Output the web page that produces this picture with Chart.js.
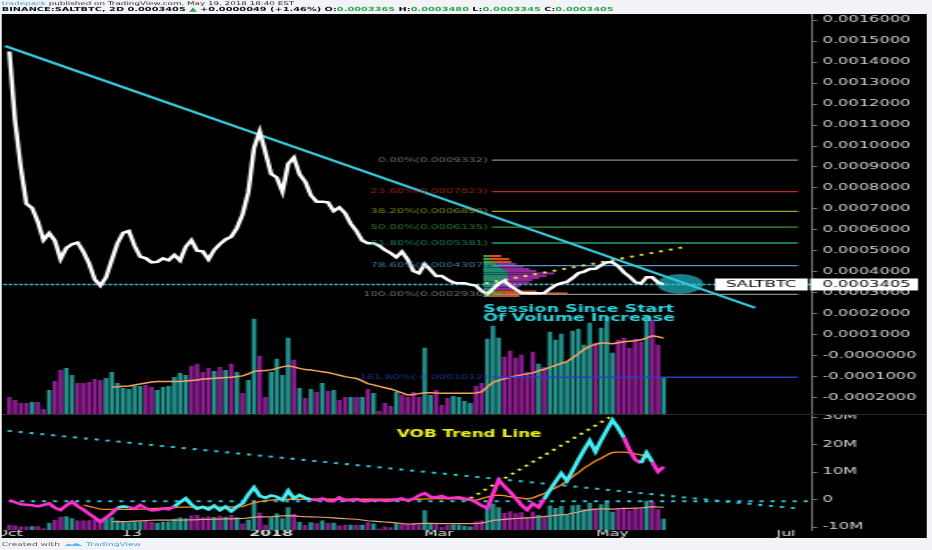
<!DOCTYPE html>
<html>
<head>
<meta charset="utf-8">
<script src="https://cdn.jsdelivr.net/npm/chart.js@4.4.0/dist/chart.umd.min.js"></script>
<style>
  html, body { margin: 0; padding: 0; background: #f1f3f6; overflow: hidden; width: 932px; height: 550px; }
  #wrap { position: absolute; left: 0; top: 0; width: 532px; height: 550px;
          transform: scaleX(1.7519); transform-origin: 0 0; font-family: 'DejaVu Sans', sans-serif; }
  #black { position: absolute; left: 1px; top: 14px; width: 528px; height: 524px; background: #000; }
  canvas { position: absolute; left: 1px; }
  #c1 { top: 14px; }
  #c2 { top: 415px; }
  #sep { position: absolute; left: 1px; top: 414px; width: 528px; height: 1px; background: #2c2c2c; }
  .h { position: absolute; left: 1px; white-space: nowrap; line-height: 1; }
  #h1 { top: 1px; font-size: 5px; color: #2b2b2b; }
  #h2 { top: 7px; font-size: 5.6px; font-weight: bold; color: #111; }
  #ft { top: 542px; font-size: 5.2px; color: #555; }
  .g { color: #2ea84f; }
  .b { color: #3d9ee0; }
</style>
</head>
<body>
<div id="wrap">
  <div class="h" id="h1"><span class="b">tradepack</span> published on TradingView.com, May 19, 2018 18:40 EST</div>
  <div class="h" id="h2">BINANCE:SALTBTC, 2D 0.0003405 <span class="g">▲</span> +0.0000049 (+1.46%) O:<span class="g">0.0003365</span> H:<span class="g">0.0003480</span> L:<span class="g">0.0003345</span> C:<span class="g">0.0003405</span></div>
  <div id="black"></div>
  <canvas id="c1" width="528" height="401"></canvas>
  <div id="sep"></div>
  <canvas id="c2" width="528" height="127"></canvas>
  <div class="h" id="ft">Created with &nbsp;<svg width="10" height="5" viewBox="0 0 10 5" style="vertical-align:middle"><path d="M0 4 Q2 0 4 3 Q6 0 8 2 Q9 3 10 4 Z" fill="#5fb6ea"/></svg> <span class="b">TradingView</span></div>
</div>
<script>
// 2D bars, bar 0 = 2017-10-01, last bar = 2018-05-19
const price = [0.00145, 0.00112, 0.00090, 0.000725, 0.000705, 0.00064, 0.000552, 0.000585, 0.000549, 0.000462,
  0.000514, 0.000532, 0.00054, 0.000497, 0.000441, 0.000365, 0.000335, 0.000375, 0.000457, 0.000537,
  0.000586, 0.000595, 0.000525, 0.000473, 0.000465, 0.000446, 0.000448, 0.000465, 0.000456, 0.000481,
  0.000454, 0.00052, 0.000552, 0.000501, 0.000498, 0.00046, 0.000505, 0.000533, 0.000555, 0.000568,
  0.00061, 0.000675, 0.00078, 0.00099, 0.00107, 0.00097, 0.000867, 0.00085, 0.000782, 0.000915,
  0.000945, 0.000865, 0.00083, 0.000765, 0.000735, 0.000735, 0.000732, 0.00069, 0.000708, 0.00068,
  0.00063, 0.000595, 0.00055, 0.000537, 0.000537, 0.000525, 0.000505, 0.00049, 0.00047, 0.000497,
  0.00046, 0.000405, 0.000394, 0.000438, 0.00041, 0.000381, 0.000381, 0.000364, 0.00035, 0.000346,
  0.000346, 0.00034, 0.000335, 0.00031, 0.000295, 0.00032, 0.000345, 0.000359, 0.000335, 0.000318,
  0.0003, 0.000299, 0.000299, 0.000299, 0.0003, 0.00032, 0.000337, 0.000347, 0.000353, 0.000372,
  0.000394, 0.000402, 0.000414, 0.000415, 0.000433, 0.000446, 0.000446, 0.000428, 0.000398, 0.000378,
  0.000352, 0.000345, 0.000375, 0.000375, 0.00035, 0.0003405];

const volume = [18, 15, 12, 12, 13, 13, 6, 25, 34, 45, 47, 40, 32, 32, 33, 36, 35, 37, 43, 32,
  27, 26, 29, 29, 30, 28, 25, 28, 29, 38, 42, 40, 49, 51, 43, 47, 44, 48, 45, 51,
  43, 22, 35, 96, 59, 18, 43, 56, 40, 77, 55, 27, 17, 26, 23, 32, 24, 25, 15, 18,
  18, 18, 18, 26, 22, 4, 12, 9, 23, 20, 18, 23, 18, 67, 20, 25, 10, 17, 19, 18,
  14, 12, 29, 32, 76, 89, 77, 58, 64, 57, 60, 43, 63, 51, 48, 83, 75, 81, 53, 84,
  86, 70, 92, 72, 87, 98, 62, 75, 77, 67, 76, 73, 99, 95, 70, 38];

const volUp = [0, 0, 0, 0, 1, 0, 0, 1, 0, 0, 1, 1, 0, 0, 0, 0, 0, 1, 1, 1,
  1, 1, 1, 1, 0, 0, 1, 1, 1, 1, 1, 1, 0, 0, 0, 0, 1, 0, 1, 0,
  1, 0, 1, 1, 0, 0, 1, 1, 1, 1, 0, 1, 0, 1, 0, 1, 0, 1, 0, 0,
  1, 0, 1, 0, 1, 0, 0, 0, 1, 0, 0, 0, 0, 1, 1, 0, 0, 0, 1, 1,
  1, 1, 0, 0, 1, 1, 1, 0, 0, 0, 0, 0, 0, 1, 0, 1, 1, 1, 1, 1,
  1, 1, 1, 0, 1, 1, 1, 0, 0, 0, 0, 0, 1, 0, 0, 1];

const volMA = [null, null, null, null, null, null, null, null, null, null, null, null, null, null, null, null, null, null,
  28, 28.3, 28.7, 29, 30, 31, 32, 33, 33.3, 33.3, 33.3, 33.3, 33.3, 34, 34.5, 35, 35.8, 36.2, 36.6, 37, 37.4, 37.7,
  38.3, 39, 41, 43.5, 44.2, 44.5, 45, 46.5, 48, 49, 48, 46.5, 45.3, 44.8, 44, 43.2, 42.4, 41, 39.7, 38.3,
  37.3, 36.5, 34, 31.3, 30, 28.6, 27.2, 26, 24, 22, 20, 20.5, 21.3, 22.2, 22.3, 22, 21.8, 21.7, 21.7, 21.7,
  21.7, 21.7, 22, 23, 28, 32.5, 34.5, 36, 37.5, 39, 40, 41, 42, 44, 45.6, 47.5, 49.5, 51.5, 53.3, 57,
  61, 65.5, 68.5, 70.5, 72, 71.5, 71, 72, 73, 73.5, 74, 75, 77, 79, 78, 76.7];

// VOB oscillator (millions)
const vob = [-0.2, -1.0, -1.7, -1.9, -2.1, -2.5, -2.0, -1.4, -3.0, -3.8, -2.2, -0.8, -2.4, -3.7, -5.2, -6.6, -8.1, -6.6, -5.0, -3.0,
  -2.5, -2.8, -3.4, -2.0, -3.2, -4.0, -3.8, -3.3, -3.6, -2.5, -1.0, 0.4, -1.8, -3.4, -2.7, -3.6, -2.2, -3.9, -2.6, -4.3,
  -2.6, -1.4, 1.8, 4.4, 1.3, 0.6, 1.5, 1.0, -0.2, 3.2, 0.4, 1.6, 0.6, 0.0, -0.2, 0.4, -0.5, -0.6, 0.8, -0.4,
  -0.2, 0.1, -0.5, -0.6, -0.2, -0.3, -0.4, -0.4, 0.0, 0.4, -0.4, 0.2, 1.5, 2.3, 1.0, 0.8, 1.3, 0.4, 0.6, 0.8,
  0.4, 0.1, -1.0, -2.2, -3.2, 2.0, 7.1, 4.8, 2.8, 0.4, -2.0, -3.8, -1.5, -2.8, 0.2, 3.5, 6.5, 9.5, 6.8, 10.6,
  14.4, 18.0, 21.4, 17.4, 21.5, 25.2, 28.9, 26.0, 22.5, 18.0, 14.5, 13.2, 17.0, 13.6, 10.1, 11.9];
const vobCyan = [[19, 21], [29, 53], [94, 108], [111, 113]];
const vobMA = [null, null, null, null, null, null, null, null, null, null, null, null, null,
  -2.0, -2.5, -3.0, -3.5, -3.6, -3.6, -3.6, -3.6, -3.6, -3.6, -3.5, -3.4, -3.3, -3.2, -3.1, -3.0, -2.9, -2.8,
  -2.8, -2.8, -2.8, -2.8, -2.8, -2.8, -2.8, -2.8, -2.7, -2.7, -2.6, -1.8, -1.2, -0.8, -0.4, -0.2, 0.0, 0.0, 0.1, 0.1,
  0.1, 0.1, 0.1, 0.1, 0.1, 0.1, 0.1, 0.1, 0.1, 0.1, 0.1, 0.1, 0.1, 0.1, 0.1, 0.1, 0.1, 0.1, -0.2, 0.0,
  0.1, 0.1, 0.2, 0.2, 0.3, 0.3, 0.3, 0.3, 0.2, 0.0, -0.3, -0.3, 0.3, 0.9, 1.4, 1.6, 1.4, 1.0, 0.8, 0.5,
  0.2, 0.6, 1.4, 2.2, 3.2, 4.3, 5.3, 6.8, 8.3, 9.8, 11.4, 12.7, 14.0, 15.0, 16.2, 17.1, 17.2, 17.2, 17.0, 16.6,
  16.2, 15.6, 15.0];

// fibonacci retracement
const fibPct = ['0.00%', '23.60%', '38.20%', '50.00%', '61.80%', '78.60%', '100.00%', '161.80%'];
const fibVal = [0.0009332, 0.0007823, 0.000689, 0.0006135, 0.0005381, 0.0004307, 0.000293, -0.0001012];
const fibColor = ['#8c8c8c', '#c62828', '#a4a421', '#3a9d3a', '#1f9f74', '#4a9cc8', '#8c8c8c', '#2a3fbf'];
const fibFrom = 84.8, fibTo = 138.6;

// visible range volume profile
const vpPrice = [0.000476, 0.000462, 0.000448, 0.000438, 0.000426, 0.000414, 0.000405, 0.000393, 0.000381,
  0.000371, 0.000362, 0.00035, 0.00034, 0.000331, 0.000319, 0.000307, 0.000298, 0.000286];
const vpUp = [5, 7, 10, 13, 16, 20, 23, 26, 25, 23, 20, 16, 15, 13, 11, 13, 20, 7];
const vpDown = [13, 19, 18, 20, 24, 26, 30, 45, 38, 33, 29, 30, 24, 23, 22, 40, 64, 29];
const vpInValue = [0, 0, 0, 1, 1, 1, 1, 1, 1, 1, 1, 1, 1, 1, 1, 0, 0, 0];

// drawn lines (bar index, value)
const trendTop = [{ x: -0.76, y: 0.001476 }, { x: 131.1, y: 0.000229 }];
const lastPrice = 0.0003405;
const yellowTop = [{ x: 83.6, y: 0.000346 }, { x: 119.1, y: 0.000521 }];
const pocLine = [{ x: 84, y: 0.000343 }, { x: 115.5, y: 0.000343 }];
const ellipse = { x: 117.9, y: 0.000343, rx: 4.04, ry: 0.0000476 };
const vobTrend = [{ x: -0.28, y: 25.0 }, { x: 138.1, y: -3.2 }];
const vobZero = [{ x: -2, y: -0.6 }, { x: 142, y: -0.6 }];
const vobYellow = [{ x: 81, y: 0.4 }, { x: 105.5, y: 29.9 }];

const priceTicks = [0.0016, 0.0015, 0.0014, 0.0013, 0.0012, 0.0011, 0.0010, 0.0009, 0.0008, 0.0007, 0.0006,
  0.0005, 0.0004, 0.0003, 0.0002, 0.0001, 0, -0.0001, -0.0002];
const priceTickText = ['0.0016000', '0.0015000', '0.0014000', '0.0013000', '0.0012000', '0.0011000', '0.0010000',
  '0.0009000', '0.0008000', '0.0007000', '0.0006000', '0.0005000', '0.0004000', '0.0003000', '0.0002000',
  '0.0001000', '-0.0000000', '-0.0001000', '-0.0002000'];
const vobTicks = [30, 20, 10, 0, -10];
const vobTickText = ['30M', '20M', '10M', '0', '-10M'];
const timeTicks = [0, 21.5, 46, 75.5, 106, 136.5];
const timeTickText = ['Oct', '13', '2018', 'Mar', 'May', 'Jul'];

const idx = price.map((_, i) => i);
const X_MIN = -1.33, X_MAX = 141.07;
const TEAL = '#23918c', PURPLE = '#8b1c8e', CYAN = '#2ec8d8';
const FONT = 'DejaVu Sans';
const volColors = volUp.map(u => u ? TEAL : PURPLE);

Chart.defaults.font.family = FONT;
Chart.defaults.animation = false;

function axisY(extra) {
  return Object.assign({
    position: 'right',
    grid: { drawOnChartArea: false, drawTicks: true, tickLength: 3, color: '#777' },
    border: { display: true, color: '#777', width: 1 },
    afterFit: s => { s.width = 65.5; s.paddingTop = 0; s.paddingBottom = 0; }
  }, extra);
}

function flatLine(points, color, width, dash, order) {
  return { type: 'line', data: points, borderColor: color, borderWidth: width, borderDash: dash,
    pointRadius: 0, tension: 0, order: order };
}

const overlays = {
  id: 'overlays',
  beforeDatasetsDraw(chart) {
    const { ctx, scales: { x, y } } = chart;
    ctx.save();
    // volume profile
    const unit = 0.176;
    const x0 = x.getPixelForValue(83.3);
    vpPrice.forEach((p, k) => {
      const yc = y.getPixelForValue(p);
      const xu = x.getPixelForValue(83.3 + vpUp[k] * unit);
      const xe = x.getPixelForValue(83.3 + (vpUp[k] + vpDown[k]) * unit);
      ctx.fillStyle = vpInValue[k] ? 'rgba(40,160,135,0.85)' : 'rgba(80,180,70,0.9)';
      ctx.fillRect(x0, yc - 1.1, xu - x0, 2.2);
      ctx.fillStyle = vpInValue[k] ? 'rgba(160,45,170,0.9)' : 'rgba(225,95,25,0.9)';
      ctx.fillRect(xu, yc - 1.1, xe - xu, 2.2);
    });
    // highlight ellipse
    const cx = x.getPixelForValue(ellipse.x), cy = y.getPixelForValue(ellipse.y);
    const rx = x.getPixelForValue(ellipse.x + ellipse.rx) - cx;
    const ry = cy - y.getPixelForValue(ellipse.y + ellipse.ry);
    ctx.fillStyle = 'rgba(30,170,180,0.75)';
    ctx.beginPath();
    ctx.ellipse(cx, cy, rx, ry, 0, 0, Math.PI * 2);
    ctx.fill();
    ctx.restore();
  },
  afterDatasetsDraw(chart) {
    const { ctx, scales: { x, y } } = chart;
    ctx.save();
    ctx.font = '6.7px ' + FONT;
    ctx.textAlign = 'right';
    ctx.textBaseline = 'middle';
    ctx.globalAlpha = 0.8;
    fibVal.forEach((v, k) => {
      ctx.fillStyle = fibColor[k];
      ctx.fillText(fibPct[k] + '(' + v.toFixed(7) + ')', x.getPixelForValue(84.1), y.getPixelForValue(v));
    });
    ctx.globalAlpha = 1;
    ctx.font = 'bold 10px ' + FONT;
    ctx.textAlign = 'left';
    ctx.fillStyle = '#2fd3de';
    ctx.fillText('Session Since Start', x.getPixelForValue(83.25), y.getPixelForValue(0.000221));
    ctx.fillText('Of Volume Increase', x.getPixelForValue(83.25), y.getPixelForValue(0.000181));
    ctx.restore();
  },
  afterDraw(chart) {
    const { ctx, scales: { x, y } } = chart;
    const yy = y.getPixelForValue(lastPrice);
    ctx.save();
    ctx.fillStyle = '#fff';
    ctx.fillRect(x.right - 55.4, yy - 6, 53, 12);
    ctx.fillRect(x.right - 1, yy - 6, 61.5, 12);
    ctx.fillStyle = '#000';
    ctx.font = '9.3px ' + FONT;
    ctx.textBaseline = 'middle';
    ctx.textAlign = 'center';
    ctx.fillText('SALTBTC', x.right - 29, yy + 0.5);
    ctx.textAlign = 'left';
    ctx.fillText(lastPrice.toFixed(7), x.right + 6, yy + 0.5);
    ctx.restore();
  }
};

new Chart(document.getElementById('c1'), {
  data: {
    labels: idx,
    datasets: [
      flatLine(price, '#ffffff', 2.5, [], 1),
      flatLine(trendTop, '#34c9da', 2.2, [], 2),
      flatLine([{ x: -2, y: lastPrice }, { x: 142, y: lastPrice }], CYAN, 1.3, [2, 1], 3),
      flatLine(yellowTop, '#e8e83a', 2, [2, 3.8], 4),
      flatLine(pocLine, '#d03030', 1, [1.5, 1.5], 5),
      ...fibVal.map((v, k) => flatLine([{ x: fibFrom, y: v }, { x: fibTo, y: v }], fibColor[k], 1.3, [], 6 + k)),
      Object.assign(flatLine(volMA, '#f4a460', 1.5, [], 20), { yAxisID: 'yv' }),
      { type: 'bar', data: volume, yAxisID: 'yv', backgroundColor: volColors, barPercentage: 0.8,
        categoryPercentage: 1, order: 30 }
    ]
  },
  options: {
    responsive: false, devicePixelRatio: 1,
    layout: { padding: 0 },
    plugins: { legend: { display: false }, tooltip: { enabled: false } },
    scales: {
      x: { type: 'linear', min: X_MIN, max: X_MAX, offset: false, grid: { offset: false }, display: false },
      y: axisY({
        min: -0.000281, max: 0.0016286,
        afterBuildTicks: s => { s.ticks = priceTicks.map(v => ({ value: v })); },
        ticks: { color: '#d2d2d2', font: { size: 9.3 }, padding: 3, autoSkip: false,
          callback: (v, k) => priceTickText[k] }
      }),
      yv: { display: false, min: 0, max: 400 }
    }
  },
  plugins: [overlays]
});

const lowerText = {
  id: 'lowerText',
  afterDatasetsDraw(chart) {
    const { ctx, scales: { x, y } } = chart;
    ctx.save();
    ctx.font = 'bold 9.6px ' + FONT;
    ctx.fillStyle = '#f0f020';
    ctx.textBaseline = 'middle';
    ctx.fillText('VOB Trend Line', x.getPixelForValue(68.1), y.getPixelForValue(23.8));
    ctx.restore();
  }
};

const inCyan = k => vobCyan.some(([a, b]) => k >= a && k < b);

new Chart(document.getElementById('c2'), {
  data: {
    labels: idx,
    datasets: [
      Object.assign(flatLine(vob, '#ff2fd2', 2.6, [], 1), {
        segment: { borderColor: c => inCyan(c.p0DataIndex) ? '#45eef5' : '#ff2fd2' }
      }),
      flatLine(vobMA, '#ff8c1a', 1.3, [], 2),
      flatLine(vobTrend, CYAN, 2, [2.3, 4], 3),
      flatLine(vobZero, CYAN, 2, [2.3, 4], 4),
      flatLine(vobYellow, '#e8e83a', 2, [2, 3.6], 5),
      Object.assign(flatLine(volMA, '#e8a27c', 1.2, [], 8), { yAxisID: 'yv' }),
      { type: 'bar', data: volume, yAxisID: 'yv', backgroundColor: volColors, barPercentage: 0.8,
        categoryPercentage: 1, order: 30 }
    ]
  },
  options: {
    responsive: false, devicePixelRatio: 1,
    layout: { padding: 0 },
    plugins: { legend: { display: false }, tooltip: { enabled: false } },
    scales: {
      x: {
        type: 'linear', min: X_MIN, max: X_MAX, position: 'bottom', offset: false,
        grid: { display: false, drawTicks: false, offset: false }, border: { display: false },
        afterBuildTicks: s => { s.ticks = timeTicks.map(v => ({ value: v })); },
        afterFit: s => { s.height = 12; s.paddingLeft = 0; s.paddingRight = 0; },
        ticks: {
          color: '#e2e2e2', padding: -1.5, maxRotation: 0, autoSkip: false,
          font: c => ({ size: 9, weight: c.index === 2 ? 'bold' : 'normal' }),
          callback: (v, k) => timeTickText[k]
        }
      },
      y: axisY({
        min: -11.09, max: 30.73,
        afterBuildTicks: s => { s.ticks = vobTicks.map(v => ({ value: v })); },
        ticks: { color: '#d2d2d2', font: { size: 9.3 }, padding: 3, autoSkip: false,
          callback: (v, k) => vobTickText[k] }
      }),
      yv: { display: false, min: 0, max: 390 }
    }
  },
  plugins: [lowerText]
});
</script>
</body>
</html>
